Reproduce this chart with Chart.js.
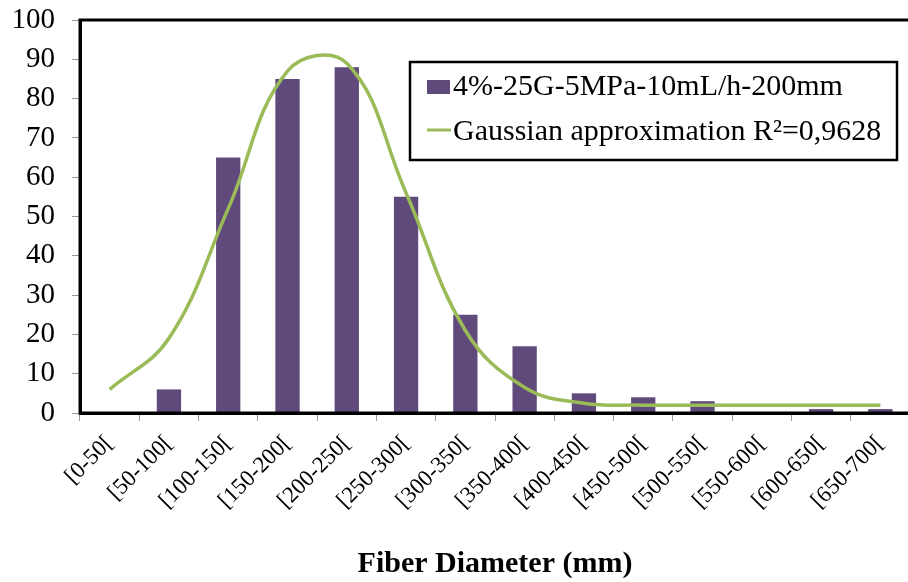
<!DOCTYPE html>
<html>
<head>
<meta charset="utf-8">
<script src="https://cdn.jsdelivr.net/npm/chart.js@4/dist/chart.umd.min.js"></script>
<style>
  html, body { margin: 0; padding: 0; background: #fff; overflow: hidden; }
  #wrap { position: relative; width: 911px; height: 582px; }
</style>
</head>
<body>
<div id="wrap"><canvas id="fiber-chart"></canvas></div>
<script>
// bins of fiber diameter
const categories = ['[0-50[', '[50-100[', '[100-150[', '[150-200[', '[200-250[', '[250-300[', '[300-350[',
  '[350-400[', '[400-450[', '[450-500[', '[500-550[', '[550-600[', '[600-650[', '[650-700['];
// measured counts (bars)
const counts = [0, 6, 65, 85, 88, 55, 25, 17, 5, 4, 3, 0, 1, 1];
// gaussian fit at each bin centre
const gaussFit = [6, 19, 52, 87, 89, 56, 21, 6.5, 2.5, 2, 2, 2, 2, 2];
const yTicks = [0, 10, 20, 30, 40, 50, 60, 70, 80, 90, 100];

const barLabel = '4%-25G-5MPa-10mL/h-200mm';
const lineLabel = 'Gaussian approximation R\u00B2=0,9628';
const serif = "'Liberation Serif', 'Times New Roman', serif";

// frame: top line + left and bottom axis (right side runs off the page)
const framePlugin = {
  id: 'frame',
  afterDatasetsDraw(chart) {
    const { ctx, chartArea: a } = chart;
    ctx.save();
    ctx.strokeStyle = '#000';
    ctx.lineWidth = 3;
    ctx.beginPath();
    ctx.moveTo(a.right + 5, a.top);
    ctx.lineTo(a.left, a.top);
    ctx.lineTo(a.left, a.bottom);
    ctx.lineTo(a.right + 5, a.bottom);
    ctx.stroke();
    ctx.restore();
  }
};

// boxed legend inside the plot, like the excel one
const boxLegend = {
  id: 'boxLegend',
  afterDraw(chart) {
    const ctx = chart.ctx;
    const x0 = 410, y0 = 62, w = 487, h = 98;
    ctx.save();
    ctx.fillStyle = '#fff';
    ctx.fillRect(x0, y0, w, h);
    ctx.strokeStyle = '#000';
    ctx.lineWidth = 2.5;
    ctx.strokeRect(x0, y0, w, h);
    ctx.font = '30px ' + serif;
    ctx.textBaseline = 'middle';
    chart.data.datasets.forEach((ds, i) => {
      const cy = y0 + 25 + i * 45;
      if (ds.type === 'bar') {
        ctx.fillStyle = ds.backgroundColor;
        ctx.fillRect(x0 + 17, cy - 7, 23, 14);
      } else {
        ctx.strokeStyle = ds.borderColor;
        ctx.lineWidth = 3;
        ctx.beginPath();
        ctx.moveTo(x0 + 17, cy - 2);
        ctx.lineTo(x0 + 41, cy - 2);
        ctx.stroke();
      }
      ctx.fillStyle = '#000';
      ctx.fillText(ds.label, x0 + 43, cy);
    });
    ctx.restore();
  }
};

const ctx = document.getElementById('fiber-chart').getContext('2d');
new Chart(ctx, {
  data: {
    labels: categories,
    datasets: [
      {
        type: 'bar',
        label: barLabel,
        data: counts,
        backgroundColor: '#604A7B',
        categoryPercentage: 1,
        barPercentage: 0.41,
        order: 1
      },
      {
        type: 'line',
        label: lineLabel,
        data: gaussFit,
        borderColor: '#9BBB59',
        borderWidth: 3.5,
        pointRadius: 0,
        tension: 0.4,
        fill: false,
        order: 0
      }
    ]
  },
  options: {
    responsive: true,
    maintainAspectRatio: false,
    animation: false,
    layout: { padding: { top: 20, right: 1, bottom: 0, left: 0 } },
    plugins: { legend: { display: false }, tooltip: { enabled: false } },
    scales: {
      y: {
        min: 0, max: 100,
        afterBuildTicks: s => { s.ticks = yTicks.map(v => ({ value: v })); },
        afterFit: s => { s.width = 80; s.paddingTop = 0; s.paddingBottom = 0; },
        ticks: { color: '#000', font: { family: serif, size: 29 }, padding: 17 },
        grid: { drawOnChartArea: false, tickLength: 8, color: '#999' },
        border: { color: '#000', width: 3 }
      },
      x: {
        afterFit: s => { s.height = 169; },
        ticks: {
          color: '#000', font: { family: serif, size: 23 },
          maxRotation: 45, minRotation: 45, autoSkip: false, padding: 9
        },
        grid: { drawOnChartArea: false, offset: true, tickLength: 8, color: '#999' },
        border: { color: '#000', width: 3 },
        title: {
          display: true, text: 'Fiber Diameter (mm)', color: '#000',
          font: { family: serif, size: 30, weight: 'bold' }, padding: { top: 0, bottom: 0 }
        }
      }
    }
  },
  plugins: [framePlugin, boxLegend]
});
</script>
</body>
</html>
